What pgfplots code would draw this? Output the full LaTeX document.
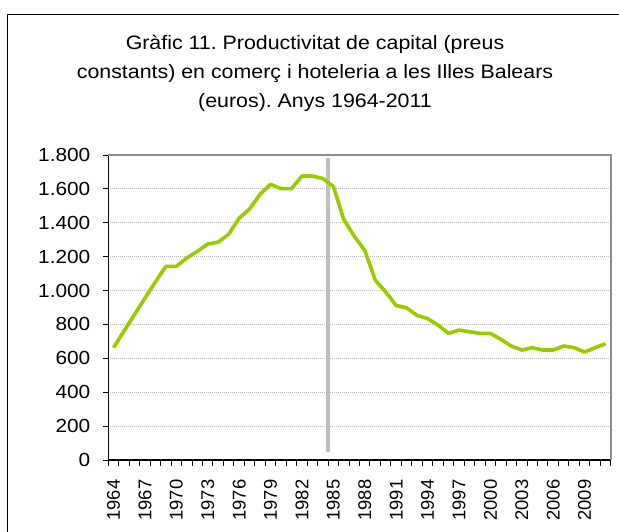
\documentclass[border=0pt]{standalone}
\usepackage{fontspec}
\setmainfont{Liberation Sans}
\newfontfamily\widefont[FakeStretch=1.1]{Liberation Sans}
\usepackage{pgfplots}
\pgfplotsset{compat=1.18}
\definecolor{linegreen}{RGB}{153,204,0}
\definecolor{vgray}{RGB}{191,191,191}
\definecolor{bordergray}{RGB}{140,140,140}
\pgfplotstableread{
year value
1964 663
1965 761
1966 858
1967 955
1968 1051
1969 1143
1970 1143
1971 1192
1972 1231
1973 1275
1974 1286
1975 1333
1976 1427
1977 1482
1978 1569
1979 1627
1980 1602
1981 1602
1982 1676
1983 1676
1984 1661
1985 1615
1986 1418
1987 1320
1988 1237
1989 1061
1990 992
1991 912
1992 898
1993 853
1994 835
1995 796
1996 747
1997 767
1998 757
1999 747
2000 747
2001 712
2002 673
2003 649
2004 663
2005 649
2006 649
2007 673
2008 663
2009 637
2010 663
2011 686
}\datatable
\begin{document}
\frenchspacing
\begin{tikzpicture}
\useasboundingbox (0bp,0bp) rectangle (619bp,-532bp);
\draw[line width=1.8bp] (7.5bp,-14.5bp) rectangle (700bp,-700bp);
\node[anchor=base, font=\widefont\fontsize{19.5}{22}\selectfont, inner sep=0pt] at (315bp,-49.3bp) {Gràfic 11. Productivitat de capital (preus};
\node[anchor=base, font=\widefont\fontsize{19.5}{22}\selectfont, inner sep=0pt] at (315bp,-78.3bp) {constants) en comerç i hoteleria a les Illes Balears};
\node[anchor=base, font=\widefont\fontsize{19.5}{22}\selectfont, inner sep=0pt] at (315bp,-107bp) {(euros). Anys 1964-2011};
\begin{axis}[
  at={(108.3bp,-460bp)}, anchor=south west,
  scale only axis, width=502.5bp, height=305bp,
  xmin=1963.5, xmax=2011.5, ymin=0, ymax=1800,
  ytick={0,200,...,1800},
  xtick={1963.5,1964.5,...,2011.5},
  xticklabels={},
  extra x ticks={1964,1967,1970,1973,1976,1979,1982,1985,1988,1991,1994,1997,2000,2003,2006,2009},
  extra x tick labels={1964,1967,1970,1973,1976,1979,1982,1985,1988,1991,1994,1997,2000,2003,2006,2009},
  extra x tick style={major tick length=0pt, tick label style={rotate=90, anchor=east, xshift=-16bp, font=\fontsize{18.5}{22}\selectfont}},
  xtick pos=bottom, ytick pos=left,
  tick align=outside,
  major tick length=5.5bp,
  tick style={black, line width=1bp},
  axis line style={black, line width=1.3bp},
  ymajorgrids,
  major grid style={color=gray!55, dash pattern=on 1bp off 1bp, line width=0.8bp},
  /pgf/number format/assume math mode=true,
  yticklabel style={font=\widefont\fontsize{19}{22}\selectfont, /pgf/number format/1000 sep={.}, xshift=-9bp},
  clip=false,
]
\addplot[color=vgray, line width=3.3bp] coordinates {(1984.5,50) (1984.5,1780)};
\addplot[color=linegreen, line width=3.6bp, line join=round, mark=none] table[x=year, y=value] {\datatable};
\draw[bordergray, line width=1.6bp] (rel axis cs:0,1) -- (rel axis cs:1,1) -- (rel axis cs:1,0);
\end{axis}
\end{tikzpicture}
\end{document}
